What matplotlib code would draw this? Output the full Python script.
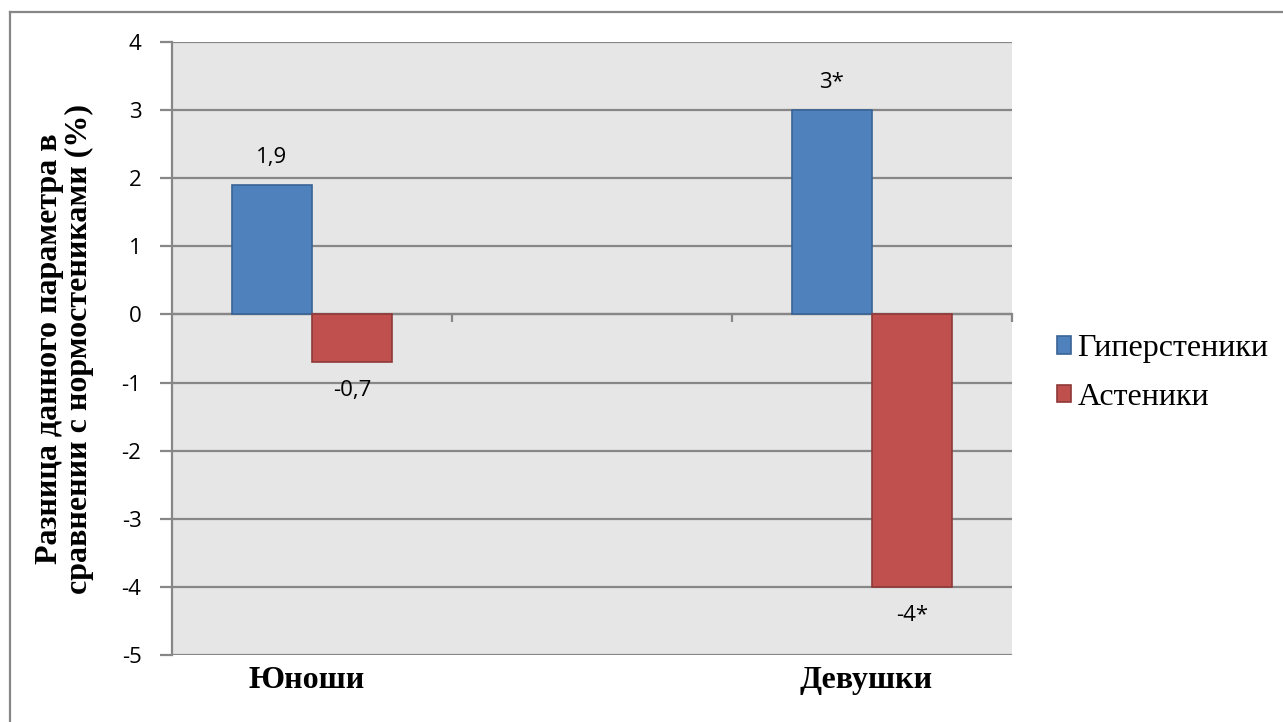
import matplotlib.pyplot as plt
from matplotlib.lines import Line2D
from matplotlib.transforms import blended_transform_factory

# Data
groups = ['Юноши', '', 'Девушки']
hyper = [1.9, None, 3]
asthen = [-0.7, None, -4]
hyper_labels = ['1,9', '', '3*']
asthen_labels = ['-0,7', '', '-4*']
series_names = ['Гиперстеники', 'Астеники']
yticks = [-5, -4, -3, -2, -1, 0, 1, 2, 3, 4]

blue, blue_edge = '#4F81BD', '#3A6496'
red, red_edge = '#C0504D', '#8E3A38'
grid_c = '#878787'

fig = plt.figure(figsize=(12.83, 7.22), dpi=100)
ax = fig.add_axes([172 / 1283, 1 - 655 / 722, 840 / 1283, 613 / 722])
ax.set_facecolor('#E6E6E6')

w = 80 / 280
xs = [i for i, v in enumerate(hyper) if v is not None]
hv = [hyper[i] for i in xs]
av = [asthen[i] for i in xs]
b1 = ax.bar([x - w / 2 for x in xs], hv, width=w, color=blue, edgecolor=blue_edge,
            linewidth=1.2, label=series_names[0], zorder=3)
b2 = ax.bar([x + w / 2 for x in xs], av, width=w, color=red, edgecolor=red_edge,
            linewidth=1.2, label=series_names[1], zorder=3)

# value labels
for x, v in zip(xs, hv):
    ax.annotate(hyper_labels[x], (x - w / 2, v), xytext=(0, 20 if v >= 0 else -20),
                textcoords='offset points', ha='center', va='center',
                fontsize=16, family='Open Sans', color='black')
for x, v in zip(xs, av):
    ax.annotate(asthen_labels[x], (x + w / 2, v), xytext=(0, 20 if v >= 0 else -20.5),
                textcoords='offset points', ha='center', va='center',
                fontsize=16, family='Open Sans', color='black')

ax.set_xlim(-0.5, 2.5)
ax.set_ylim(-5, 4)
ax.set_yticks(yticks)
ax.set_yticklabels([str(t) for t in yticks], family='Open Sans', fontsize=16)
ax.yaxis.grid(True, color=grid_c, linewidth=1.6, zorder=1)
ax.set_axisbelow(True)

for s in ['top', 'right']:
    ax.spines[s].set_visible(False)
ax.spines['left'].set_color(grid_c)
ax.spines['left'].set_linewidth(1.6)
ax.spines['bottom'].set_position(('data', 0))
ax.spines['bottom'].set_color(grid_c)
ax.spines['bottom'].set_linewidth(1.6)
ax.spines['bottom'].set_zorder(2)

ax.set_xticks([0.5, 1.5, 2.5])
ax.set_xticklabels([])
ax.tick_params(axis='x', length=6, width=1.6, color=grid_c, direction='out')
ax.tick_params(axis='y', length=9, width=1.6, color=grid_c, pad=13)

# category names under the plot area
trans = blended_transform_factory(ax.transData, ax.transAxes)
for i, g in enumerate(groups):
    if g:
        ax.text(i - 0.02, -0.042, g, transform=trans, ha='center', va='center',
                fontsize=23, fontweight='bold', family='Liberation Serif')

ax.set_ylabel('Разница данного параметра в\nсравнении с нормостениками (%)',
              fontsize=23, fontweight='bold', family='Liberation Serif',
              linespacing=1.05, labelpad=20)

ax.legend(handles=[b1, b2], loc='center left', bbox_to_anchor=(1.038, 0.46),
          frameon=False, prop={'family': 'Liberation Serif', 'size': 23},
          handlelength=0.45, handleheight=0.45, handletextpad=0.2, labelspacing=0.6,
          borderaxespad=0)

# chart area border (top and left edges)
fig.add_artist(Line2D([10 / 1283, 1.01], [1 - 12 / 722, 1 - 12 / 722], color=grid_c,
                      linewidth=1.6, transform=fig.transFigure))
fig.add_artist(Line2D([10 / 1283, 10 / 1283], [1 - 12 / 722, -0.01], color=grid_c,
                      linewidth=1.6, transform=fig.transFigure))

fig.savefig('out.png', dpi=100, facecolor='white')
